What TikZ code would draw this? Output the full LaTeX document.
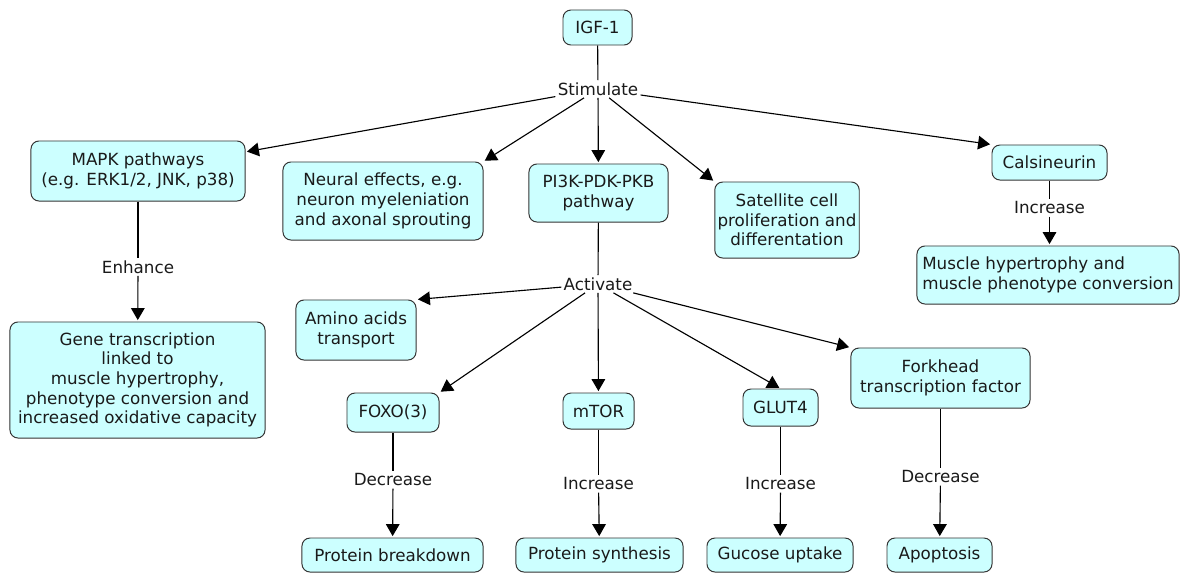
\documentclass[tikz,border=0pt]{standalone}
\usepackage{fontspec}
\setmainfont{DejaVu Sans}
\usepackage{xcolor}
\usetikzlibrary{arrows.meta}
\definecolor{mapcyan}{HTML}{CCFFFF}
\definecolor{mapedge}{HTML}{333333}
\definecolor{maptext}{HTML}{1A1A1A}

\begin{document}
\begin{tikzpicture}[x=0.025cm, y=-0.025cm,
  cbox/.style={draw=mapedge, line width=0.7pt, fill=mapcyan, rounded corners=0.2cm, align=center, inner sep=2pt, text=maptext, font=\fontsize{11.9}{14}\selectfont},
  lbox/.style={cbox, align=left},
  link/.style={fill=white, inner sep=1.5pt, text=maptext, font=\fontsize{11.9}{14}\selectfont},
  plain/.style={line width=0.8pt},
  arr/.style={plain, -{Triangle[length=0.3cm, width=0.34cm]}, shorten >=1pt},
]
  \useasboundingbox (0,0) rectangle (1181,573);

  % Top level
  \node[cbox, minimum width=1.725cm, minimum height=0.875cm] (igf) at (597.5,27.5) {IGF-1};
  \node[link] (stim) at (598,89) {Stimulate};

  \node[cbox, minimum width=5.35cm, minimum height=1.5cm] (mapk) at (138,171) {MAPK pathways\\(e.g. ERK1/2, JNK, p38)};
  \node[cbox, minimum width=5cm, minimum height=1.95cm] (neural) at (383,201) {Neural effects, e.g.\\neuron myeleniation\\and axonal sprouting};
  \node[cbox, minimum width=3.475cm, minimum height=1.45cm] (pikb) at (598.5,193) {PI3K-PDK-PKB\\pathway};
  \node[cbox, minimum width=3.525cm, minimum height=1.9cm] (sat) at (787,220) {Satellite cell\\proliferation and\\differentation};
  \node[cbox, minimum width=2.875cm, minimum height=0.875cm] (calsin) at (1049.5,162.5) {Calsineurin};

  % MAPK and calsineurin branches
  \node[link] (enhance) at (138,267) {Enhance};
  \node[cbox, minimum width=6.375cm, minimum height=2.9cm] (gene) at (137.5,380) {Gene transcription\\linked to\\muscle hypertrophy,\\phenotype conversion and\\increased oxidative capacity};
  \node[link] (incA) at (1049.5,208) {Increase};
  \node[lbox, minimum width=6.55cm, minimum height=1.45cm] (muschyp) at (1048,275) {Muscle hypertrophy and\\muscle phenotype conversion};

  % PI3K branch
  \node[link] (act) at (598,284) {Activate};
  \node[cbox, minimum width=3cm, minimum height=1.5cm] (amino) at (356,330) {Amino acids\\transport};
  \node[cbox, minimum width=2.3cm, minimum height=0.975cm] (foxo) at (393,412.5) {FOXO(3)};
  \node[cbox, minimum width=1.775cm, minimum height=0.9cm] (mtor) at (598.5,411) {mTOR};
  \node[cbox, minimum width=1.875cm, minimum height=0.925cm] (glut) at (780.5,407.5) {GLUT4};
  \node[cbox, minimum width=4.475cm, minimum height=1.5cm] (fork) at (940.5,378) {Forkhead\\transcription factor};

  \node[link] (decA) at (393,480) {Decrease};
  \node[link] (incB) at (598.5,484) {Increase};
  \node[link] (incC) at (780.5,484) {Increase};
  \node[link] (decB) at (940.5,477) {Decrease};

  \node[cbox, minimum width=4.525cm, minimum height=0.85cm] (breakdown) at (392.5,555) {Protein breakdown};
  \node[cbox, minimum width=4.175cm, minimum height=0.85cm] (synth) at (599.5,555) {Protein synthesis};
  \node[cbox, minimum width=3.65cm, minimum height=0.85cm] (glucose) at (780,555) {Gucose uptake};
  \node[cbox, minimum width=2.625cm, minimum height=0.85cm] (apop) at (939.5,555) {Apoptosis};

  % Connectors
  \draw[plain] (igf) -- (stim);
  \draw[arr] (stim) -- (mapk);
  \draw[arr] (stim) -- (neural.north east);
  \draw[arr] (stim) -- (pikb);
  \draw[arr] (stim) -- (sat.north west);
  \draw[arr] (stim) -- (calsin.north west);

  \draw[plain] (mapk) -- (enhance);
  \draw[arr] (enhance) -- (gene);
  \draw[plain] (calsin) -- (incA);
  \draw[arr] (incA) -- (calsin |- muschyp.north);

  \draw[plain] (pikb) -- (act);
  \draw[arr] (act) -- (amino.north east);
  \draw[arr] (act) -- (foxo.north east);
  \draw[arr] (act) -- (mtor);
  \draw[arr] (act) -- (glut.north);
  \draw[arr] (act) -- (fork.north west);

  \draw[plain] (foxo) -- (decA);
  \draw[arr] (decA) -- (breakdown);
  \draw[plain] (mtor) -- (incB);
  \draw[arr] (incB) -- (synth);
  \draw[plain] (glut) -- (incC);
  \draw[arr] (incC) -- (glucose);
  \draw[plain] (fork) -- (decB);
  \draw[arr] (decB) -- (apop);
\end{tikzpicture}
\end{document}
